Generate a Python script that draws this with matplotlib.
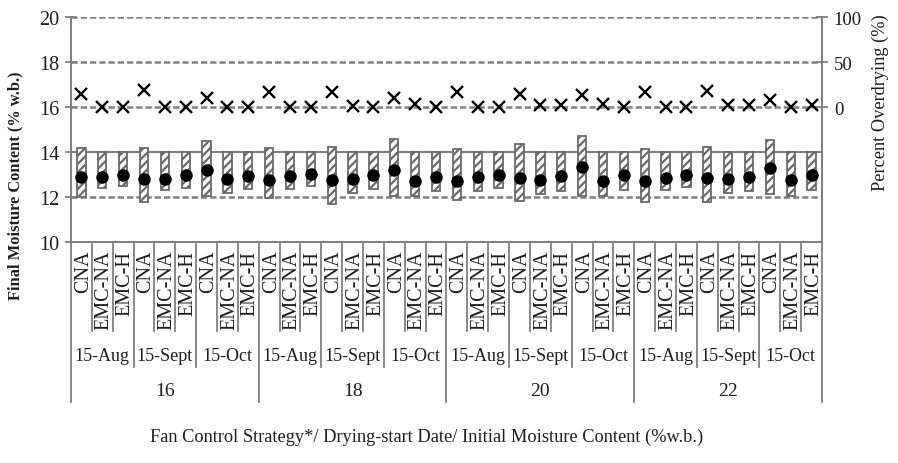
import matplotlib
matplotlib.use("Agg")
import matplotlib.pyplot as plt
import numpy as np

plt.rcParams['font.family'] = ['Liberation Serif', 'DejaVu Serif']
plt.rcParams['hatch.linewidth'] = 1.6

# category levels
strategies = ['CNA', 'EMC-NA', 'EMC-H']
dates = ['15-Aug', '15-Sept', '15-Oct']
moistures = ['16', '18', '20', '22']

# final moisture content range (% w.b.) per category
mc_high = [14.19, 14.0, 14.0, 14.2, 14.0, 14.0, 14.5, 14.0, 14.0,
           14.2, 14.0, 14.0, 14.22, 14.0, 14.0, 14.6, 14.0, 14.0,
           14.15, 14.0, 14.0, 14.34, 14.0, 14.0, 14.72, 14.0, 14.0,
           14.15, 14.0, 14.0, 14.22, 14.0, 14.0, 14.52, 14.0, 14.0]
mc_low = [12.0, 12.4, 12.5, 11.8, 12.3, 12.4, 12.03, 12.2, 12.36,
          11.95, 12.36, 12.48, 11.7, 12.18, 12.36, 12.03, 12.03, 12.25,
          11.85, 12.25, 12.4, 11.84, 12.15, 12.28, 12.03, 12.03, 12.3,
          11.8, 12.3, 12.43, 11.78, 12.18, 12.28, 12.15, 12.03, 12.3]
mc_mean = [12.9, 12.9, 13.0, 12.8, 12.8, 12.97, 13.2, 12.8, 12.95,
           12.78, 12.93, 13.03, 12.78, 12.82, 12.97, 13.22, 12.73, 12.88,
           12.73, 12.9, 12.97, 12.85, 12.78, 12.93, 13.33, 12.73, 12.97,
           12.7, 12.85, 12.97, 12.85, 12.8, 12.9, 13.3, 12.75, 12.97]
# percent overdrying (%)
overdry = [14.5, 0, 0, 19.5, 0, 0, 10, 0, 0,
           17, 0, 0, 16.5, 1, 0, 10, 3, 0,
           17, 0, 0, 15, 2, 2, 13, 3, 0,
           17, 0, 0, 17.5, 2, 2, 8, 0, 2]

n = len(mc_mean)
x = np.arange(n)
grey = '#808080'
txt = '#1e1e1e'

fig = plt.figure(figsize=(8.98, 4.64), dpi=100)
ax = fig.add_axes([0.079, 0.4763, 0.8364, 0.4845])
ax2 = ax.twinx()

lo = np.array(mc_low)
hi = np.array(mc_high)
ax.bar(x, hi - lo, bottom=lo, width=0.4, facecolor='white',
       edgecolor='#6a6a6a', hatch='////', linewidth=1.3, zorder=3)
ax.plot(x, mc_mean, 'o', color='black', markersize=8, zorder=4)

ax.set_xlim(-0.5, n - 0.5)
ax.set_ylim(10, 20)
ax.set_yticks([10, 12, 14, 16, 18, 20])
for v in [12, 16, 18, 20]:
    ax.axhline(v, color=grey, lw=1.8, ls=(0, (2.5, 1.2)), zorder=1)
ax.axhline(14, color=grey, lw=1.5, zorder=1)

ax2.plot(x, overdry, 'x', color='black', markersize=8, mew=1.7, zorder=5)
ax2.set_ylim(-150, 100)
ax2.set_yticks([0, 50, 100])

for a in (ax, ax2):
    a.spines['top'].set_visible(False)
    for s in ('left', 'right', 'bottom'):
        a.spines[s].set_color(grey)
        a.spines[s].set_linewidth(1.3)
ax.tick_params(axis='y', direction='inout', length=9, width=1.3, color=grey,
               labelsize=14.5, labelcolor=txt, pad=4)
ax2.tick_params(axis='y', direction='inout', length=9, width=1.3, color=grey,
                labelsize=13.5, labelcolor=txt, pad=4)
ax.set_xticks([])
ax2.set_xticks([])

# multi-level category axis
tr = ax.get_xaxis_transform()
for k in range(n + 1):
    if k % 9 == 0:
        y0 = -0.711
    elif k % 3 == 0:
        y0 = -0.556
    else:
        y0 = -0.396
    ax.plot([k - 0.5, k - 0.5], [0, y0], color=grey, lw=1.3,
            transform=tr, clip_on=False)

for i in range(n):
    ax.text(i + 0.1, -0.035, strategies[i % 3], rotation=90, ha='center',
            va='top', fontsize=14.5, color=txt, transform=tr)
for j in range(n // 3):
    ax.text(j * 3 + 1, -0.507, dates[j % 3], ha='center', va='center',
            fontsize=13, color=txt, transform=tr)
for m in range(len(moistures)):
    ax.text(m * 9 + 4, -0.662, moistures[m], ha='center', va='center',
            fontsize=14, color=txt, transform=tr)

fig.text(0.475, 0.058, 'Fan Control Strategy*/ Drying-start Date/ Initial Moisture Content (%w.b.)',
         ha='center', va='center', fontsize=13.2, color=txt)
fig.text(0.017, 0.60, 'Final Moisture Content (% w.b.)', rotation=90,
         ha='center', va='center', fontsize=11.8, fontweight='bold', color=txt)
fig.text(0.98, 0.778, 'Percent Overdrying (%)', rotation=90,
         ha='center', va='center', fontsize=13.2, color=txt)

fig.savefig('out.png', dpi=100)
